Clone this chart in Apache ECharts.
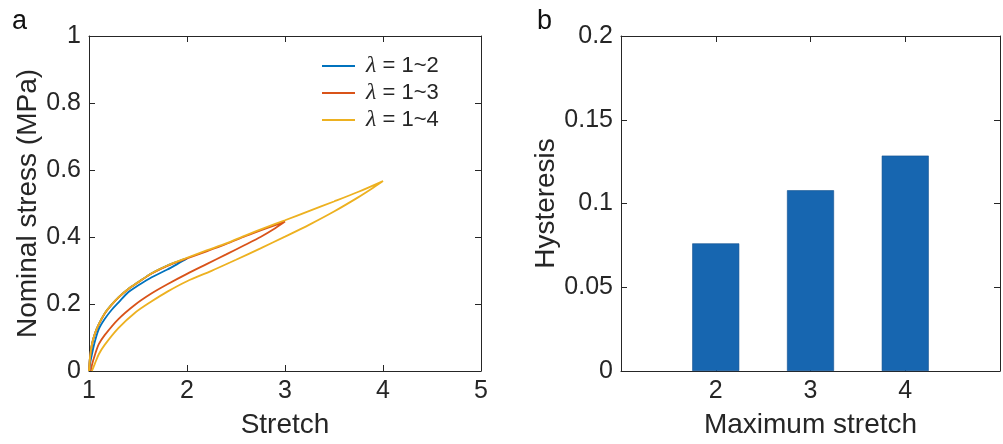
<!DOCTYPE html>
<html>
<head>
<meta charset="utf-8">
<script src="https://cdn.jsdelivr.net/npm/echarts@6/dist/echarts.min.js"></script>
<style>html,body{margin:0;padding:0;background:#fff;}#c{width:1003px;height:444px;}</style>
</head>
<body>
<div id="c"></div>
<script>
// ---------- data ----------
const loopNames = ['λ = 1~2', 'λ = 1~3', 'λ = 1~4'];

// λ = 1~2 (loading then unloading)
const loop2Stretch = [1.0, 1.01, 1.03, 1.06, 1.1, 1.16, 1.23, 1.3, 1.4, 1.5, 1.64, 1.8, 1.9, 2.0,
                      1.96, 1.9, 1.8, 1.64, 1.5, 1.4, 1.3, 1.23, 1.16, 1.1, 1.06, 1.03, 1.01, 1.005];
const loop2Stress  = [0, 0.04, 0.08, 0.112, 0.14, 0.172, 0.198, 0.22, 0.245, 0.265, 0.292, 0.315, 0.326, 0.336,
                      0.329, 0.319, 0.303, 0.28, 0.255, 0.235, 0.204, 0.182, 0.155, 0.125, 0.088, 0.05, 0.02, 0.0];

// λ = 1~3
const loop3Stretch = [1.0, 1.01, 1.03, 1.06, 1.1, 1.16, 1.23, 1.3, 1.4, 1.5, 1.64, 1.8, 2.0, 2.2, 2.4, 2.6, 2.8, 3.0,
                      2.9, 2.75, 2.59, 2.4, 2.2, 2.0, 1.8, 1.64, 1.47, 1.3, 1.16, 1.1, 1.06, 1.03, 1.02];
const loop3Stress  = [0, 0.039, 0.079, 0.111, 0.139, 0.171, 0.197, 0.219, 0.244, 0.264, 0.291, 0.314, 0.336, 0.357, 0.379, 0.403, 0.425, 0.446,
                      0.426, 0.4, 0.376, 0.348, 0.319, 0.29, 0.259, 0.232, 0.198, 0.155, 0.107, 0.08, 0.048, 0.018, 0.0];

// λ = 1~4
const loop4Stretch = [1.0, 1.01, 1.03, 1.06, 1.1, 1.16, 1.23, 1.3, 1.4, 1.5, 1.64, 1.8, 2.0, 2.2, 2.4, 2.6, 2.8, 3.0, 3.25, 3.5, 3.75, 4.0,
                      3.9, 3.75, 3.5, 3.25, 3.0, 2.75, 2.5, 2.25, 2.0, 1.8, 1.64, 1.47, 1.3, 1.16, 1.1, 1.06, 1.03];
const loop4Stress  = [0, 0.04, 0.08, 0.112, 0.14, 0.172, 0.198, 0.22, 0.245, 0.265, 0.292, 0.315, 0.338, 0.36, 0.381, 0.405, 0.428, 0.45, 0.478, 0.506, 0.535, 0.567,
                      0.547, 0.519, 0.476, 0.437, 0.401, 0.366, 0.332, 0.299, 0.268, 0.237, 0.208, 0.174, 0.128, 0.078, 0.05, 0.022, 0.0];

// panel b
const maxStretch = [2, 3, 4];
const hysteresis = [0.0762, 0.1079, 0.1286];

// ---------- chart ----------
const TXT = '#262626';
const FONT = 'Liberation Sans';
const colors = ['#0072BD', '#D95319', '#EDB120'];
const TICK_FS = 25;
const NAME_FS = 28;

function pairs(xs, ys) { return xs.map((x, i) => [x, ys[i]]); }

function mainAxis(extra) {
  return Object.assign({
    type: 'value',
    axisLine: { show: true, onZero: false, lineStyle: { color: TXT, width: 1 } },
    axisTick: { show: true, inside: true, length: 6, lineStyle: { color: TXT, width: 1 } },
    splitLine: { show: false },
    nameTextStyle: { fontSize: NAME_FS, color: TXT, fontFamily: FONT }
  }, extra);
}
function mirrorAxis(extra) {
  return Object.assign({
    type: 'value',
    axisLine: { show: true, onZero: false, lineStyle: { color: TXT, width: 1 } },
    axisTick: { show: true, inside: true, length: 6, lineStyle: { color: TXT, width: 1 } },
    axisLabel: { show: false },
    splitLine: { show: false }
  }, extra);
}

const loops = [pairs(loop2Stretch, loop2Stress), pairs(loop3Stretch, loop3Stress), pairs(loop4Stretch, loop4Stress)];

const option = {
  animation: false,
  backgroundColor: '#fff',
  textStyle: { fontFamily: FONT },
  grid: [
    { left: 89, top: 36, width: 392, height: 335 },
    { left: 621, top: 36, width: 379, height: 335 }
  ],
  xAxis: [
    mainAxis({ gridIndex: 0, min: 1, max: 5, interval: 1, position: 'bottom',
      name: 'Stretch', nameLocation: 'middle', nameGap: 40,
      axisLabel: { fontSize: TICK_FS, color: TXT, fontFamily: FONT, margin: 8, showMinLabel: true, showMaxLabel: true } }),
    mirrorAxis({ gridIndex: 0, min: 1, max: 5, interval: 1, position: 'top' }),
    mainAxis({ gridIndex: 1, min: 1, max: 5, interval: 1, position: 'bottom',
      name: 'Maximum stretch', nameLocation: 'middle', nameGap: 40,
      axisLabel: { fontSize: TICK_FS, color: TXT, fontFamily: FONT, margin: 8,
        formatter: v => (maxStretch.indexOf(v) >= 0 ? String(v) : '') } }),
    mirrorAxis({ gridIndex: 1, min: 1, max: 5, interval: 1, position: 'top' })
  ],
  yAxis: [
    mainAxis({ gridIndex: 0, min: 0, max: 1, interval: 0.2, position: 'left',
      name: 'Nominal stress (MPa)', nameLocation: 'middle', nameGap: 47,
      axisLabel: { fontSize: TICK_FS, color: TXT, fontFamily: FONT, margin: 8, showMinLabel: true, showMaxLabel: true } }),
    mirrorAxis({ gridIndex: 0, min: 0, max: 1, interval: 0.2, position: 'right' }),
    mainAxis({ gridIndex: 1, min: 0, max: 0.2, interval: 0.05, position: 'left',
      name: 'Hysteresis', nameLocation: 'middle', nameGap: 61,
      axisLabel: { fontSize: TICK_FS, color: TXT, fontFamily: FONT, margin: 8, showMinLabel: true, showMaxLabel: true } }),
    mirrorAxis({ gridIndex: 1, min: 0, max: 0.2, interval: 0.05, position: 'right' })
  ],
  legend: {
    left: 322, top: 54, orient: 'vertical', itemWidth: 33, itemHeight: 2, itemGap: 3,
    padding: 0, icon: 'rect',
    data: loopNames,
    formatter: n => '{p|}{i|λ}' + n.slice(1),
    textStyle: {
      fontSize: 22, color: TXT, fontFamily: FONT, lineHeight: 24,
      rich: {
        p: { width: 6 },
        i: { fontStyle: 'italic', fontFamily: 'Liberation Serif', fontSize: 24, color: TXT }
      }
    }
  },
  graphic: [
    { type: 'text', left: 12, top: 8, style: { text: 'a', fontSize: 27, fontFamily: FONT, fill: '#111' } },
    { type: 'text', left: 537, top: 8, style: { text: 'b', fontSize: 27, fontFamily: FONT, fill: '#111' } }
  ],
  series: loopNames.map((n, i) => ({
    name: n, type: 'line', xAxisIndex: 0, yAxisIndex: 0,
    data: loops[i], symbol: 'none', smooth: 0.3,
    lineStyle: { color: colors[i], width: 1.8 },
    itemStyle: { color: colors[i] }
  })).concat([{
    type: 'bar', xAxisIndex: 2, yAxisIndex: 2,
    data: pairs(maxStretch, hysteresis), barWidth: 47,
    itemStyle: { color: '#1766B0', borderColor: '#0F4F8E', borderWidth: 0.6 }
  }])
};

const chart = echarts.init(document.getElementById('c'), null, { renderer: 'canvas' });
chart.setOption(option);
</script>
</body>
</html>
